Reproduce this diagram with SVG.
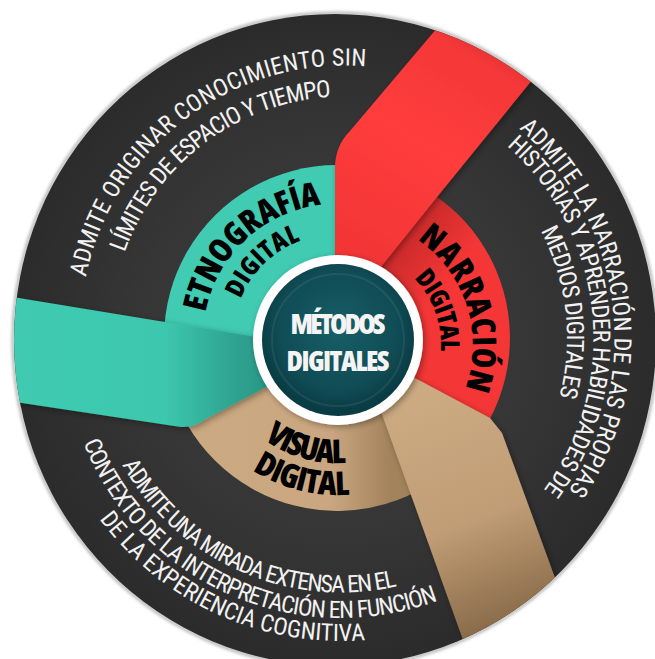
<svg xmlns="http://www.w3.org/2000/svg" width="655" height="659" viewBox="0 0 655 659">
<defs>
<style>
.lbl{font-family:"Open Sans","Roboto","DejaVu Sans Condensed",sans-serif;font-stretch:75%;font-weight:800;fill:#000;}
.out{font-family:"Roboto","Open Sans","DejaVu Sans Condensed",sans-serif;font-stretch:75%;fill:#f2f2f2;font-size:24px;}
.ctr{font-family:"Open Sans","Roboto","DejaVu Sans Condensed",sans-serif;font-stretch:75%;font-weight:800;fill:#f4f4f4;font-size:28px;}
</style>
<radialGradient id="discG" cx="335" cy="340" r="325" gradientUnits="userSpaceOnUse">
<stop offset="0" stop-color="#3c3c3c"/><stop offset="0.6" stop-color="#363636"/><stop offset="1" stop-color="#2b2b2b"/>
</radialGradient>
<radialGradient id="ctrG" cx="338" cy="330" r="80" gradientUnits="userSpaceOnUse">
<stop offset="0" stop-color="#175e67"/><stop offset="0.75" stop-color="#104c55"/><stop offset="1" stop-color="#0a3c44"/>
</radialGradient>
<linearGradient id="tealRib" x1="0" y1="0" x2="265" y2="0" gradientUnits="userSpaceOnUse">
<stop offset="0" stop-color="#3fcbb1"/><stop offset="0.62" stop-color="#3dc8ae"/><stop offset="0.85" stop-color="#30a794"/><stop offset="1" stop-color="#2b9886"/>
</linearGradient>
<linearGradient id="redRib" x1="360" y1="262" x2="510" y2="5" gradientUnits="userSpaceOnUse">
<stop offset="0" stop-color="#f23535"/><stop offset="0.45" stop-color="#ff3c3c"/><stop offset="0.78" stop-color="#f53838"/><stop offset="1" stop-color="#c42828"/>
</linearGradient>
<linearGradient id="redSec" x1="437" y1="197" x2="484" y2="235" gradientUnits="userSpaceOnUse">
<stop offset="0" stop-color="#c92a2a"/><stop offset="1" stop-color="#f43636"/>
</linearGradient>
<linearGradient id="tanSec" x1="190" y1="0" x2="390" y2="0" gradientUnits="userSpaceOnUse">
<stop offset="0" stop-color="#cba981"/><stop offset="0.7" stop-color="#caa780"/><stop offset="1" stop-color="#a3835c"/>
</linearGradient>
<linearGradient id="tanRib" x1="420" y1="380" x2="540" y2="690" gradientUnits="userSpaceOnUse">
<stop offset="0" stop-color="#cdab83"/><stop offset="0.45" stop-color="#c09d75"/><stop offset="0.75" stop-color="#8e6f4d"/><stop offset="1" stop-color="#5c4430"/>
</linearGradient>
<clipPath id="discClip"><ellipse cx="335" cy="340" rx="321" ry="326"/></clipPath>
<filter id="sh" x="-20%" y="-20%" width="140%" height="140%">
<feDropShadow dx="2" dy="2" stdDeviation="3" flood-color="#000" flood-opacity="0.35"/>
</filter>
<filter id="rim" x="-10%" y="-10%" width="120%" height="120%">
<feGaussianBlur stdDeviation="1.5"/>
</filter>
<path id="pTL1" d="M99.8,429.1 A264.5,264.5 0 0 1 507.9,121.6"/>
<path id="pTL2" d="M128.5,417.5 A233.5,233.5 0 0 1 488.8,146"/>
<path id="pR1" d="M395.6,66.8 A277.5,277.5 0 0 1 466.4,583.5"/>
<path id="pR2" d="M398.6,89 A256.5,256.5 0 0 1 449.8,568.3"/>
<path id="pR3" d="M390.7,114.3 A230,230 0 0 1 439.6,543.8"/>
<path id="pB1" d="M92.5,302.5 A251.5,251.5 0 0 0 537,498.6"/>
<path id="pB2" d="M67.4,297.7 A277,277 0 0 0 556.3,515.3"/>
<path id="pB3" d="M45.1,291.5 A300,300 0 0 0 572.5,531.8"/>
<path id="pEt1" d="M213.5,390.1 A134,134 0 0 1 398,218.7"/>
<path id="pEt2" d="M242.1,380.6 A104,104 0 0 1 382.3,244.4"/>
<path id="pNa1" d="M349.9,217.4 A127.7,127.7 0 0 1 423.3,445.9"/>
<path id="pNa2" d="M344.7,249 A96,96 0 0 1 407,418.3"/>
<path id="pVi1" d="M212.3,346.9 A125,125 0 0 0 438.3,411.3"/>
<path id="pVi2" d="M180.9,354.4 A157,157 0 0 0 467.2,425.8"/>
</defs>

<g id="disc">
<ellipse cx="335" cy="340" rx="322" ry="327" fill="none" stroke="#b5b5b5" stroke-width="3" filter="url(#rim)"/>
<ellipse cx="335" cy="340" rx="321" ry="326" fill="url(#discG)"/>
</g>

<g id="sector-etnografia">
<path d="M337,338 L187.2,424.5 A173,173 0 0 1 337,165 Z" fill="#41cbb2"/>
</g>
<g id="sector-narracion">
<path d="M337,338 L337,165 A173,173 0 0 1 489.7,419.2 Z" fill="url(#redSec)"/>
</g>
<g id="sector-visual">
<path d="M337,338 L489.7,419.2 A173,173 0 0 1 187.2,424.5 Z" fill="url(#tanSec)"/>
</g>

<g id="ribbons" clip-path="url(#discClip)">
<path id="ribbon-etnografia" d="M-5,294 L256,337 L268,386 L206,419 Q194,428 181,427 L-5,399 Z" fill="url(#tealRib)" filter="url(#sh)"/>
<path id="ribbon-visual" d="M372,392 L413,377 L490,418 L502,433 L596,690 L481,690 L383,417 Z" fill="url(#tanRib)" filter="url(#sh)"/>
<path id="ribbon-narracion" d="M335,270 L335,168 Q335,146 350,131 L465,-5 L585,15 L437,197 L380,268 Z" fill="url(#redRib)" filter="url(#sh)"/>
</g>

<g id="labels-inner">
<text class="lbl" font-size="33"><textPath href="#pEt1" startOffset="50%" text-anchor="middle" textLength="169" lengthAdjust="spacing">ETNOGRAFÍA</textPath></text>
<text class="lbl" font-size="26"><textPath href="#pEt2" startOffset="50%" text-anchor="middle" textLength="86" lengthAdjust="spacing">DIGITAL</textPath></text>
<text class="lbl" font-size="33"><textPath href="#pNa1" startOffset="50%" text-anchor="middle" textLength="168" lengthAdjust="spacing">NARRACIÓN</textPath></text>
<text class="lbl" font-size="26"><textPath href="#pNa2" startOffset="50%" text-anchor="middle" textLength="80" lengthAdjust="spacing">DIGITAL</textPath></text>
<text class="lbl" font-size="33"><textPath href="#pVi1" startOffset="50%" text-anchor="middle" textLength="87" lengthAdjust="spacing">VISUAL</textPath></text>
<text class="lbl" font-size="33"><textPath href="#pVi2" startOffset="50%" text-anchor="middle" textLength="102" lengthAdjust="spacing">DIGITAL</textPath></text>
</g>

<g id="center">
<circle cx="338" cy="340" r="85" fill="#ffffff" filter="url(#sh)"/>
<circle cx="338" cy="340" r="76" fill="url(#ctrG)"/>
<circle cx="338" cy="340" r="66" fill="none" stroke="#ffffff" stroke-opacity="0.07" stroke-width="2"/>
<text class="ctr" x="338" y="334" text-anchor="middle" textLength="95" lengthAdjust="spacing">MÉTODOS</text>
<text class="ctr" x="338" y="371" text-anchor="middle" textLength="103" lengthAdjust="spacing">DIGITALES</text>
</g>

<g id="text-etnografia">
<text class="out"><textPath href="#pTL1" startOffset="50%" text-anchor="middle" textLength="383" lengthAdjust="spacing">ADMITE ORIGINAR CONOCIMIENTO SIN</textPath></text>
<text class="out"><textPath href="#pTL2" startOffset="50%" text-anchor="middle" textLength="274" lengthAdjust="spacing">LÍMITES DE ESPACIO Y TIEMPO</textPath></text>
</g>
<g id="text-narracion">
<text class="out"><textPath href="#pR1" startOffset="50%" text-anchor="middle" textLength="399" lengthAdjust="spacing">ADMITE LA NARRACIÓN DE  LAS PROPIAS</textPath></text>
<text class="out"><textPath href="#pR2" startOffset="50%" text-anchor="middle" textLength="380" lengthAdjust="spacing">HISTORIAS Y APRENDER HABILIDADES DE</textPath></text>
<text class="out"><textPath href="#pR3" startOffset="50%" text-anchor="middle" textLength="171" lengthAdjust="spacing">MEDIOS DIGITALES</textPath></text>
</g>
<g id="text-visual">
<text class="out"><textPath href="#pB1" startOffset="50%" text-anchor="middle" textLength="322" lengthAdjust="spacing">ADMITE UNA MIRADA EXTENSA EN EL</textPath></text>
<text class="out"><textPath href="#pB2" startOffset="50%" text-anchor="middle" textLength="430" lengthAdjust="spacing">CONTEXTO DE LA INTERPRETACIÓN EN FUNCIÓN</textPath></text>
<text class="out"><textPath href="#pB3" startOffset="50%" text-anchor="middle" textLength="305" lengthAdjust="spacing">DE LA EXPERIENCIA COGNITIVA</textPath></text>
</g>
</svg>
